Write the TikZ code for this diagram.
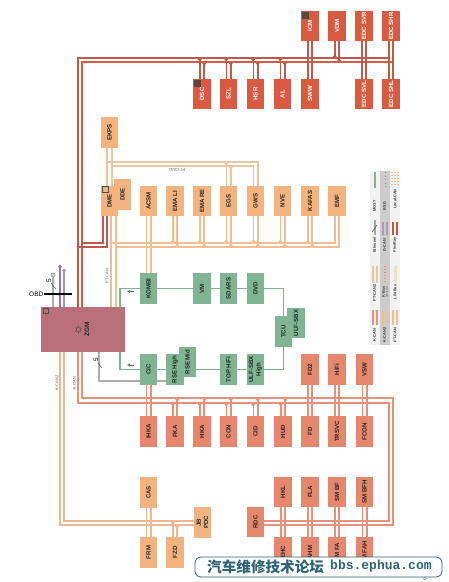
\documentclass[tikz,border=0pt]{standalone}
\usepackage{fontspec}
\setmainfont{Liberation Sans}
\newfontfamily\cjk{Noto Sans CJK SC}
\newfontfamily\wmlatin{Liberation Mono}
\usetikzlibrary{arrows.meta,shapes.geometric}
\pgfdeclarelayer{wires}
\pgfsetlayers{wires,main}
\definecolor{flexred}{HTML}{D85A40}
\definecolor{canorange}{HTML}{F2B37F}
\definecolor{kcansalmon}{HTML}{E5876C}
\definecolor{mostgreen}{HTML}{7FB592}
\definecolor{zgmrose}{HTML}{B9707A}
\definecolor{wireflex}{HTML}{BE5A4C}
\definecolor{wirept}{HTML}{F1BE93}
\definecolor{wirept2}{HTML}{E9C6A0}
\definecolor{wirek}{HTML}{E8907A}
\definecolor{wirek2}{HTML}{EDB88F}
\definecolor{wmteal}{HTML}{2F6375}
\newcommand{\vt}[1]{\rotatebox{90}{#1}}
\tikzset{
  ecu/.style={minimum width=17.5pt, minimum height=30.5pt, inner sep=0pt, text=black!85,
    font=\bfseries\fontsize{6.1}{6.6}\selectfont, align=center},
  flexbox/.style={ecu, fill=flexred, text=white},
  ptbox/.style={ecu, fill=canorange},
  kbox/.style={ecu, fill=kcansalmon},
  mostbox/.style={ecu, fill=mostgreen},
  flexwire/.style={draw=wireflex, line width=1.6pt},
  ptwire/.style={draw=wirept, line width=1.6pt},
  pt2wire/.style={draw=wirept2, line width=1.6pt},
  kwire/.style={draw=wirek, line width=1.6pt},
  k2wire/.style={draw=wirek2, line width=1.6pt},
  mostwire/.style={draw=mostgreen, line width=1.9pt},
  ethwire/.style={draw=black!32, line width=2.6pt},
  dcanwire/.style={draw=#1, line width=1.5pt, -{Circle[length=3.4pt]}},
  tap/.style={-{Circle[length=3pt]}},
  mark5/.style={draw=black!70, line width=0.5pt},
  buslabel/.style={text=black!65, inner sep=0pt, font=\fontsize{4}{4}\selectfont},
  keylabel/.style={text=black!80, inner sep=0pt, font=\bfseries\fontsize{3.8}{3.8}\selectfont},
  cornermark/.style={draw=black!70, line width=0.4pt, minimum size=5.5pt, inner sep=0pt}
}
\begin{document}
\begin{tikzpicture}[x=1pt,y=-1pt]
    \useasboundingbox (0,0) rectangle (449,582);

    % legend strips
    \fill[black!5] (370,171) rectangle (380,345);
    \fill[black!20] (380,171) rectangle (390,345);
    \fill[black!5] (390,171) rectangle (400,345);

    % FlexRay units
    \foreach \n/\t/\x in {ICM/ICM/310, VDM/VDM/337, SVR/EDC SVR/364, SHR/EDC SHR/391}
        \node[flexbox] (\n) at (\x,26) {\vt{\t}};
    \foreach \n/\t/\x in {DSC/DSC/202, SZL/SZL/228.5, HSR/HSR/255.5, AL/AL/282.5, SWW/SWW/310, SVL/EDC SVL/364, SHL/EDC SHL/391}
        \node[flexbox] (\n) at (\x,94) {\vt{\t}};

    % PT-CAN units
    \node[ptbox] (EKPS) at (109.5,132.5) {\vt{EKPS}};
    \node[ptbox] (DDE) at (122.5,194.5) {\vt{DDE}};
    \node[ptbox] (DME) at (109.5,201) {\vt{DME}};
    \foreach \n/\t/\x in {ACSM/ACSM/148.5, EMALI/EMA LI/175, EMARE/EMA RE/202, EGS/EGS/228.5, GWS/GWS/255.5, NVE/NVE/282.5, KAFAS/KAFAS/310, EMF/EMF/337}
        \node[ptbox] (\n) at (\x,201) {\vt{\t}};

    % MOST ring
    \foreach \n/\t/\x in {KOMBI/KOMBI/148.5, VM/VM/202, SDARS/SDARS/228.5, DVD/DVD/255.5}
        \node[mostbox] (\n) at (\x,288.5) {\vt{\t}};
    \node[mostbox] (ULFS) at (296,323) {\vt{ULF-SBX}};
    \node[mostbox] (TCU) at (283.5,331.5) {\vt{TCU}};
    \node[mostbox] (RSEM) at (187.5,362) {\vt{RSE Mid}};
    \node[mostbox] (CIC) at (148.5,369.5) {\vt{CIC}};
    \node[mostbox] (RSEH) at (175,369.5) {\vt{RSE High}};
    \node[mostbox] (TOPHIFI) at (228.5,369.5) {\vt{TOP HiFi}};
    \node[mostbox] (ULFH) at (255.5,369.5) {\vt{\shortstack{ULF-SBX\\High}}};

    % K-CAN units
    \foreach \n/\t/\x in {FDZ/FD2/310, HIFI/HiFi/337, VSW/VSW/364.5}
        \node[kbox] (\n) at (\x,369.5) {\vt{\t}};
    \foreach \n/\t/\x in {IHKA/IHKA/148.5, FKA/FKA/175, HKA/HKA/202, CON/CON/228.5, CID/CID/255.5, HUD/HUD/283, FD/FD/310, TRSVC/TRSVC/337, FCON/FCON/364.5}
        \node[kbox] (\n) at (\x,431.5) {\vt{\t}};
    \foreach \n/\t/\x in {HKL/HKL/283, FLA/FLA/310, SMBF/SM BF/337, SMBFH/SM BFH/364.5}
        \node[kbox] (\n) at (\x,492) {\vt{\t}};
    \foreach \n/\t/\x in {EHC/EHC/283, AHM/AHM/310, SMFA/SM FA/337, SMFAH/SM FAH/364.5}
        \node[kbox] (\n) at (\x,552.5) {\vt{\t}};
    \node[kbox] (RDC) at (255.5,522) {\vt{RDC}};

    % K-CAN2 units
    \node[ptbox] (CAS) at (148.5,492.5) {\vt{CAS}};
    \node[ptbox] (JBPDC) at (202.5,522.5) {\vt{\shortstack{JB\\PDC}}};
    \node[ptbox] (FRM) at (148.5,552.5) {\vt{FRM}};
    \node[ptbox] (FZD) at (175,552.5) {\vt{FZD}};

    % gateway
    \node[fill=zgmrose, minimum width=84pt, minimum height=45pt, inner sep=0pt] (ZGM) at (83,329.5) {};
    \node[text=black!85, inner sep=0pt, font=\bfseries\fontsize{6.5}{6.5}\selectfont] (zgmtext) at (87,329) {\vt{ZGM}};
    \node[star, star points=6, star point ratio=2, draw=black!75, line width=0.3pt, minimum size=7pt, inner sep=0pt] (zgmstar) at (78.5,329.5) {};

    \node[cornermark] (markZGM) at (45.5,310.5) {};
    \node[cornermark] (markDME) at (105,189) {};
    \node[cornermark, fill=black!40!flexred] (markDSC) at (197,83) {};
    \node[cornermark, fill=black!40!flexred] (markICM) at (305,15) {};

    % bus corners
    \coordinate (flexa) at (78,58);
    \coordinate (flexb) at (82,62);
    \coordinate (dmea) at (82,243);
    \coordinate (dmeb) at (78,247);
    \coordinate (pt2a) at (107,162);
    \coordinate (pt2b) at (112,166);
    \coordinate (pta) at (111,243);
    \coordinate (ptb) at (116,247);
    \coordinate (kcana) at (82,398);
    \coordinate (kcanb) at (78,403);
    \coordinate (kcanc) at (393,525);
    \coordinate (kcand) at (389,521);
    \coordinate (kctwoa) at (64,521);
    \coordinate (kctwob) at (60,525);
    \coordinate (mosta) at (120,288.5);
    \coordinate (mostb) at (120,369.5);
    \coordinate (etha) at (53,275);
    \coordinate (ethb) at (99,381);
    \coordinate (dcana) at (60,265);
    \coordinate (dcanb) at (64,269);
    \coordinate (obda) at (44,294);
    \coordinate (obdb) at (72,294);

    \begin{pgfonlayer}{wires}
        % FlexRay
        \draw[flexwire] (ZGM.north -| flexa) -- (flexa) -- (390,58);
        \draw[flexwire, draw=flexred] (ZGM.north -| flexb) -- (flexb) -- (394,62);
        \draw[flexwire] ([xshift=-6.5pt]DME.south) |- (dmea);
        \draw[flexwire] ([xshift=-2.5pt]DME.south) |- (dmeb);
        \foreach \n in {DSC,SZL,HSR,AL} {
            \draw[flexwire, tap] ([xshift=-2.2pt]\n.north) -- ([xshift=-2.2pt]\n.north |- flexa);
            \draw[flexwire, tap] ([xshift=2.2pt]\n.north) -- ([xshift=2.2pt]\n.north |- flexb);
        }
        \draw[flexwire, tap] ([xshift=-2.2pt]VDM.south) -- ([xshift=-2.2pt]VDM.south |- flexa);
        \draw[flexwire, tap] ([xshift=2.2pt]VDM.south) -- ([xshift=2.2pt]VDM.south |- flexb);
        \foreach \a/\b in {ICM/SWW,SVR/SVL,SHR/SHL} {
            \draw[flexwire] ([xshift=-2.2pt]\a.south) -- ([xshift=-2.2pt]\b.north);
            \draw[flexwire] ([xshift=2.2pt]\a.south) -- ([xshift=2.2pt]\b.north);
        }

        % PT-CAN2
        \draw[pt2wire] ([xshift=-2.5pt]EKPS.south) -- ([xshift=-2.5pt]DME.north);
        \draw[pt2wire] ([xshift=2.5pt]EKPS.south) -- ([xshift=2.5pt]DME.north);
        \draw[pt2wire] (pt2a) -| ([xshift=2.2pt]GWS.north);
        \draw[pt2wire] (pt2b) -| ([xshift=-2.2pt]GWS.north);
        \draw[pt2wire, tap] ([xshift=-2.2pt]EGS.north) -- ([xshift=-2.2pt]EGS.north |- pt2a);
        \draw[pt2wire, tap] ([xshift=2.2pt]EGS.north) -- ([xshift=2.2pt]EGS.north |- pt2b);

        % PT-CAN
        \draw[ptwire] (ZGM.north -| pta) -- (DME.south -| pta);
        \draw[ptwire] (ZGM.north -| ptb) -- (DME.south -| ptb);
        \draw[ptwire] (pta) -| ([xshift=-2.2pt]EMF.south);
        \draw[ptwire] (ptb) -| ([xshift=2.2pt]EMF.south);
        \foreach \n in {EMALI,EMARE,EGS,GWS,NVE,KAFAS} {
            \draw[ptwire, tap] ([xshift=-2.2pt]\n.south) -- ([xshift=-2.2pt]\n.south |- pta);
            \draw[ptwire, tap] ([xshift=2.2pt]\n.south) -- ([xshift=2.2pt]\n.south |- ptb);
        }
        \draw[ptwire] ([xshift=-2.2pt]ACSM.south) -- ([xshift=-2.2pt]KOMBI.north);
        \draw[ptwire] ([xshift=2.2pt]ACSM.south) -- ([xshift=2.2pt]KOMBI.north);

        % MOST
        \draw[mostwire] (ZGM.north -| mosta) -- (mosta) -- (KOMBI) -- (VM) -- (SDARS) -- (DVD) -| (TCU);
        \draw[mostwire] (ZGM.south -| mostb) -- (mostb) -- (CIC) -- (RSEH) -- (TOPHIFI) -- (ULFH) -| (TCU);

        % K-CAN
        \draw[kwire] (ZGM.south -| kcana) -- (kcana) -| (kcanc) -- (kcanc -| RDC.east);
        \draw[kwire] (ZGM.south -| kcanb) -- (kcanb) -| (kcand) -- (kcand -| RDC.east);
        \foreach \a/\b in {CIC/IHKA,FDZ/FD,HIFI/TRSVC,VSW/FCON,HKL/EHC,FLA/AHM,SMBF/SMFA,SMBFH/SMFAH} {
            \draw[kwire] ([xshift=-2.2pt]\a.south) -- ([xshift=-2.2pt]\b.north);
            \draw[kwire] ([xshift=2.2pt]\a.south) -- ([xshift=2.2pt]\b.north);
        }
        \foreach \n in {FKA,HKA,CON,CID,HUD} {
            \draw[kwire, tap] ([xshift=-2.2pt]\n.north) -- ([xshift=-2.2pt]\n.north |- kcanb);
            \draw[kwire, tap] ([xshift=2.2pt]\n.north) -- ([xshift=2.2pt]\n.north |- kcana);
        }

        % K-CAN2
        \draw[k2wire] (ZGM.south -| kctwoa) -- (kctwoa) -- (kctwoa -| JBPDC.west);
        \draw[k2wire] (ZGM.south -| kctwob) -- (kctwob) -- (kctwob -| JBPDC.west);
        \draw[k2wire] ([xshift=-2.2pt]CAS.south) -- ([xshift=-2.2pt]FRM.north);
        \draw[k2wire] ([xshift=2.2pt]CAS.south) -- ([xshift=2.2pt]FRM.north);
        \draw[k2wire, tap] ([xshift=-2.2pt]FZD.north) -- ([xshift=-2.2pt]FZD.north |- kctwoa);
        \draw[k2wire, tap] ([xshift=2.2pt]FZD.north) -- ([xshift=2.2pt]FZD.north |- kctwob);

        % diagnosis and ethernet
        \draw[ethwire] (ZGM.north -| etha) -- (etha);
        \draw[ethwire] (ZGM.south -| ethb) -- (ethb) -- (ethb -| RSEH.west);
        \draw[dcanwire=black!45!violet!55] (ZGM.north -| dcana) -- (dcana);
        \draw[dcanwire=blue!30!black!40] (ZGM.north -| dcanb) -- (dcanb);
    \end{pgfonlayer}

    \filldraw[draw=black!40, fill=black!20, line width=0.6pt] (etha) circle (2pt);
    \draw[black, line width=1.5pt] (obda) -- (obdb);
    \node[inner sep=0pt, font=\fontsize{6.5}{6.5}\selectfont, anchor=east] (OBD) at (43.5,294) {OBD};

    \draw[mark5] (51,283) -- (56,289);
    \node[inner sep=0pt, font=\fontsize{6.5}{6.5}\selectfont] (fivea) at (49,281) {\vt{5}};
    \draw[mark5] (98,363) -- (102,368);
    \node[inner sep=0pt, font=\fontsize{6.5}{6.5}\selectfont] (fiveb) at (96,360) {\vt{5}};

    \draw[-{Latex[length=3pt,width=3.5pt]}, black!35!mostgreen, line width=1pt] (134,291.5) -- (127,291.5);
    \draw[-{Latex[length=3pt,width=3.5pt]}, black!35!mostgreen, line width=1pt] (134,365) -- (127,365);

    % bus names
    \node[buslabel] (lblpt) at (107,276) {\vt{PT-CAN}};
    \node[buslabel, rotate=180] (lblpttwo) at (177,170) {PT-CAN2};
    \node[buslabel] (lblktwo) at (57,383) {\vt{K-CAN2}};
    \node[buslabel] (lblk) at (74.5,383) {\vt{K-CAN}};

    % legend
    \draw[mostgreen, line width=1.5pt] (375,172) -- (375,188);
    \draw[black!35, line width=2pt] (375,235) -- (375,220);
    \draw[mark5] (372,232) -- (377,225);
    \draw[wirept2, line width=1.5pt] (373,266) -- (373,283) (377,266) -- (377,283);
    \draw[wirek, line width=1.5pt] (373,310) -- (373,325) (377,310) -- (377,325);
    \draw[black!45, line width=1pt, dash pattern=on 1pt off 2.5pt] (385,172) -- (385,188);
    \draw[violet!45!black!40, line width=1.5pt] (383,222) -- (383,235) (387,222) -- (387,235);
    \draw[wirek, line width=1.6pt, dash pattern=on 1.2pt off 1.8pt] (385,266) -- (385,283);
    \draw[wirept, line width=1.5pt] (383,310) -- (383,325) (387,310) -- (387,325);
    \foreach \x in {392,395,398}
        \draw[wirept, line width=1.3pt, dash pattern=on 1.2pt off 1.8pt] (\x,172) -- (\x,185);
    \draw[wireflex, line width=1.7pt] (393,222) -- (393,235) (397,222) -- (397,235);
    \draw[wirept2!60, line width=3pt] (395,266) -- (395,283);
    \draw[wirept, line width=1.5pt] (393,310) -- (393,325) (397,310) -- (397,325);
    \foreach \n/\t/\x/\y in {kmost/MOST/374.5/206, keth/Ethernet/374.5/245, kpttwo/PT-CAN2/374.5/293, kkcan/K-CAN/374.5/335,
        kbsd/BSD/384.5/206, kdcan/D-CAN/384.5/245, kkbus/K-Bus/383.5/292, kkctwo/K-CAN2/384.5/335,
        klocal/Local-CAN/395/199, kflex/FlexRay/395/245, klin/LIN-Bus/395/292, kpt/PT-CAN/395/335}
        \node[keylabel] (\n) at (\x,\y) {\vt{\t}};
    \node[keylabel, font=\fontsize{2.5}{2.5}\selectfont] (kproto) at (387,292) {\vt{(protocol)}};

    % watermark
    \node[draw=wmteal, fill=white, line width=0.8pt, rounded corners=6pt, minimum width=247pt, minimum height=20pt, inner sep=0pt] (wmbox) at (318.5,567) {};
    \node[text=wmteal, inner sep=0pt, anchor=west, font=\cjk\bfseries\fontsize{14.6}{14.6}\selectfont] (wmcn) at (207,566.5) {汽车维修技术论坛};
    \node[text=wmteal, inner sep=0pt, anchor=west, font=\wmlatin\bfseries\fontsize{13}{13}\selectfont] (wmen) at (330,566.5) {bbs.ephua.com};
    \node[circle, draw=black!45, line width=0.5pt, minimum size=3pt, inner sep=0pt] (wmdot) at (425,578.5) {};
\end{tikzpicture}
\end{document}
